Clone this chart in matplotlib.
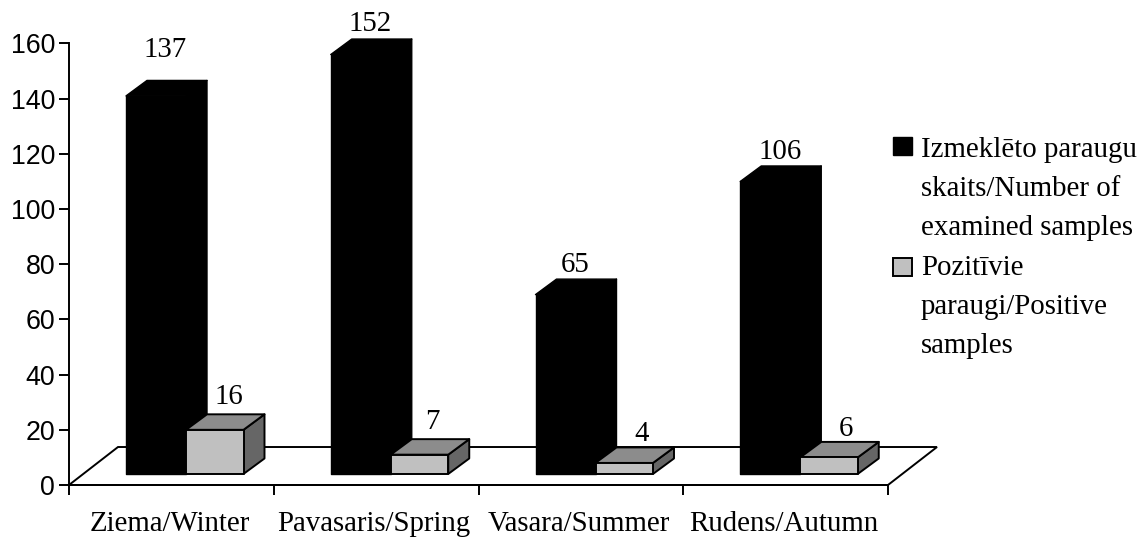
import matplotlib
matplotlib.use("Agg")
import matplotlib.pyplot as plt
from matplotlib.patches import Polygon, Rectangle

categories = ["Ziema/Winter", "Pavasaris/Spring", "Vasara/Summer", "Rudens/Autumn"]
examined = [137, 152, 65, 106]
positive = [16, 7, 4, 6]
series_labels = ["Izmeklēto paraugu\nskaits/Number of\nexamined samples",
                 "Pozitīvie\nparaugi/Positive\nsamples"]
y_ticks = [0, 20, 40, 60, 80, 100, 120, 140, 160]

W, H = 1144, 537
fig = plt.figure(figsize=(W / 100, H / 100), dpi=100, facecolor="white")
L, R, T, B = 69, 888, 43.5, 485
ax = fig.add_axes([L / W, 1 - B / H, (R - L) / W, (B - T) / H])
ax.set_xlim(0, len(categories))
ax.set_ylim(0, 160)
ax.patch.set_visible(False)
for s in ("top", "right"):
    ax.spines[s].set_visible(False)
for s in ("left", "bottom"):
    ax.spines[s].set_linewidth(1.4)
ax.set_yticks(y_ticks)
ax.set_xticks(range(len(categories) + 1))
ax.set_xticklabels([""] * (len(categories) + 1))
ax.tick_params(axis="y", length=7, width=1.4, pad=3, labelsize=19.3)
ax.tick_params(axis="x", length=7, width=1.4)
for t in ax.get_yticklabels():
    t.set_family("Liberation Sans")

SERIF = "Liberation Serif"
FS = 20.8
PX_X, PX_Y = 204.75, 2.76
DX, DY = 21 / PX_X, 15.5 / PX_Y     # depth offset of the bars
BASE = 4.0                          # front-floor height in value units
FLOOR_DX, FLOOR_DY = 49 / PX_X, 38 / PX_Y
GAP_A = [23, 8, 7, 7]               # label gap above black bars, px
GAP_B = [10, 10, 6, 6]              # label gap above grey bars, px
SHIFT_B = [-3, -4, 1, 0]            # horizontal nudge of grey-bar labels, px

floor = [(0, 0), (FLOOR_DX, FLOOR_DY), (4 + FLOOR_DX, FLOOR_DY), (4, 0)]
ax.add_patch(Polygon(floor, closed=True, fc="white", ec="black", lw=1.4, clip_on=False, zorder=1))


def bar3d(x0, w, v, front, top, side, ec, lw, z):
    y0, y1 = BASE, BASE + v
    x1 = x0 + w
    ax.add_patch(Polygon([(x1, y0), (x1 + DX, y0 + DY), (x1 + DX, y1 + DY), (x1, y1)], closed=True,
                         fc=side, ec=ec, lw=lw, clip_on=False, zorder=z, joinstyle="round"))
    ax.add_patch(Polygon([(x0, y1), (x0 + DX, y1 + DY), (x1 + DX, y1 + DY), (x1, y1)], closed=True,
                         fc=top, ec=ec, lw=lw, clip_on=False, zorder=z, joinstyle="round"))
    ax.add_patch(Polygon([(x0, y0), (x1, y0), (x1, y1), (x0, y1)], closed=True,
                         fc=front, ec=ec, lw=lw, clip_on=False, zorder=z + 0.1, joinstyle="round"))


OFF_A, W_A = 57 / PX_X, 60 / PX_X
OFF_B, W_B = 117 / PX_X, 57.5 / PX_X
for i, (a, b) in enumerate(zip(examined, positive)):
    bar3d(i + OFF_A, W_A, a, "black", "black", "black", "black", 1.0, 3)
    bar3d(i + OFF_B, W_B, b, "#c0c0c0", "#8c8c8c", "#666666", "black", 1.4, 4)
    ax.text(i + OFF_A + W_A / 2 + DX / 2 - 0.005, BASE + a + DY + GAP_A[i] / PX_Y, str(a), family=SERIF, fontsize=FS,
            ha="center", va="baseline", zorder=6)
    ax.text(i + OFF_B + W_B / 2 + DX / 2 + 0.03 + SHIFT_B[i] / PX_X, BASE + b + DY + GAP_B[i] / PX_Y, str(b),
            family=SERIF, fontsize=FS, ha="center", va="baseline", zorder=6)
    ax.text(i + 0.5 - 0.01, -14.1, categories[i], family=SERIF, fontsize=FS, ha="center", va="center", clip_on=False)

# legend
fig.add_artist(Rectangle((893 / W, 1 - 155 / H), 19 / W, 18 / H, transform=fig.transFigure, fc="black", ec="black", lw=1))
fig.add_artist(Rectangle((893 / W, 1 - 276 / H), 19 / W, 18 / H, transform=fig.transFigure, fc="#c0c0c0", ec="black", lw=1.4))
fig.text(921 / W, 1 - 189 / H, series_labels[0], family=SERIF, fontsize=FS, va="center", ha="left", linespacing=1.63)
fig.text(921 / W, 1 - 307 / H, series_labels[1], family=SERIF, fontsize=FS, va="center", ha="left", linespacing=1.63)

fig.savefig("out.png", dpi=100)
